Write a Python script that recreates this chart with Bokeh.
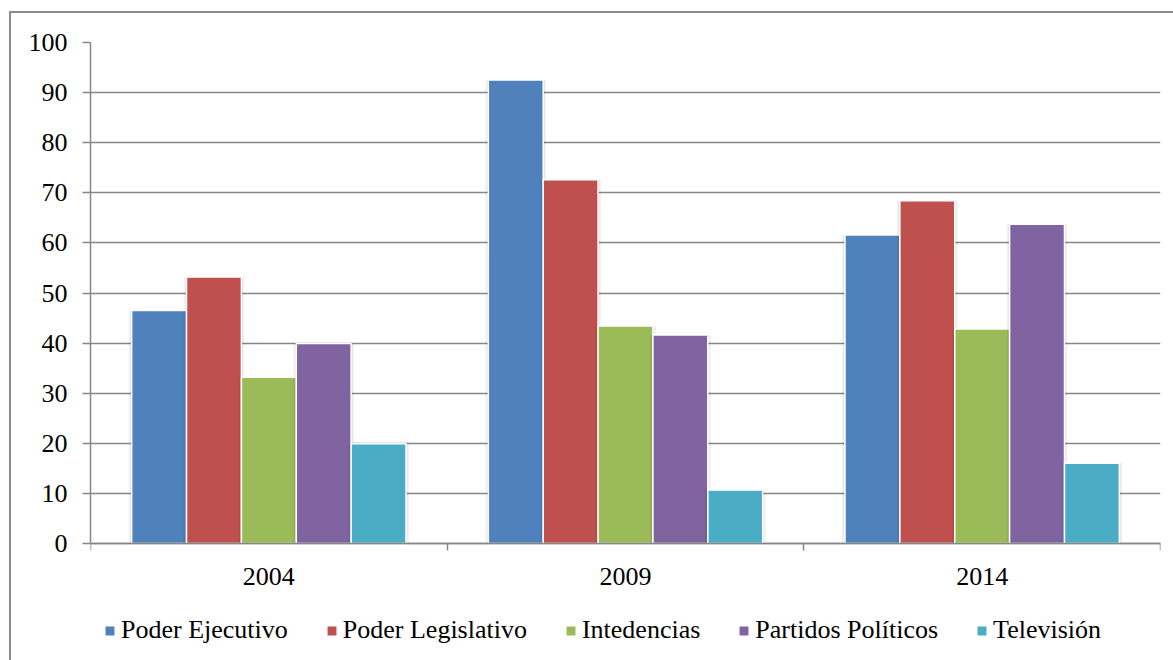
from bokeh.plotting import figure
from bokeh.models import (Range1d, FixedTicker, Legend, LegendItem, ColumnDataSource)
from bokeh.embed import file_html
from bokeh.resources import INLINE

# Survey years and institutions
categories = ["2004", "2009", "2014"]
series_names = ["Poder Ejecutivo", "Poder Legislativo", "Intedencias",
                "Partidos Políticos", "Televisión"]

poder_ejecutivo = [46.5, 92.5, 61.6]
poder_legislativo = [53.2, 72.6, 68.4]
intedencias = [33.2, 43.4, 42.8]
partidos_politicos = [39.9, 41.6, 63.7]
television = [19.9, 10.7, 16.0]

y_ticks = [0, 10, 20, 30, 40, 50, 60, 70, 80, 90, 100]

series_values = [poder_ejecutivo, poder_legislativo, intedencias,
                 partidos_politicos, television]
colors = ["#4F81BD", "#C0504D", "#9BBB59", "#8064A2", "#4BACC6"]

FONT = "Liberation Serif"
GRID = "#868686"

# value axis spans 501 px; the frame continues 117 px below zero to hold
# the category labels and the legend
PLOT_H = 501
BELOW = 117
p = figure(frame_width=1070, frame_height=PLOT_H + BELOW, output_backend="svg",
           toolbar_location=None,
           x_range=Range1d(0, len(categories)),
           y_range=Range1d(-BELOW * 100.0 / PLOT_H, 100),
           min_border_left=79, min_border_right=13, min_border_top=29,
           min_border_bottom=0)
p.margin = (11, 0, 0, 9)
p.styles = {"border-left": "2px solid #8c8c8c", "border-top": "2px solid #8c8c8c"}
p.outline_line_color = None
p.background_fill_color = "white"
p.border_fill_color = "white"

# gap width of 150% between clusters, bars touching inside a cluster
n = len(series_names)
bar_w = 1.0 / (n + 1.5)
px_x = len(categories) / 1070.0

renderers = []
for j, (name, vals, col) in enumerate(zip(series_names, series_values, colors)):
    xs = [i + 0.5 + (j - (n - 1) / 2) * bar_w for i in range(len(categories))]
    src = ColumnDataSource(dict(x=xs, top=vals))
    # soft shadow behind each bar
    p.vbar(x="x", top="top", bottom=0, source=src, width=bar_w + 6 * px_x,
           fill_color="black", fill_alpha=0.05, line_color=None)
    p.vbar(x="x", top="top", bottom=0, source=src, width=bar_w + 3 * px_x,
           fill_color="black", fill_alpha=0.06, line_color=None)
    r = p.vbar(x="x", top="top", bottom=0, source=src, width=bar_w,
               fill_color=col, line_color="white", line_width=1.5)
    renderers.append((name, r))

# y axis
p.yaxis.ticker = FixedTicker(ticks=y_ticks)
p.yaxis.bounds = (0, 100)
p.yaxis.axis_line_color = GRID
p.yaxis.axis_line_width = 1.5
p.yaxis.major_tick_line_color = GRID
p.yaxis.major_tick_line_width = 1.5
p.yaxis.major_tick_in = 0
p.yaxis.major_tick_out = 8
p.yaxis.minor_tick_line_color = None
p.yaxis.major_label_standoff = 15
p.yaxis.major_label_text_font = FONT
p.yaxis.major_label_text_font_size = "26px"
p.yaxis.major_label_text_color = "black"

# x axis sits at zero: labels at cluster centres, ticks at cluster boundaries
centers = [i + 0.5 for i in range(len(categories))]
bounds = [i for i in range(len(categories) + 1)]
p.xaxis.fixed_location = 0
p.xaxis.ticker = FixedTicker(ticks=centers, minor_ticks=bounds)
p.xaxis.major_label_overrides = {c: lab for c, lab in zip(centers, categories)}
p.xaxis.axis_line_color = GRID
p.xaxis.axis_line_width = 1.5
p.xaxis.major_tick_line_color = None
p.xaxis.major_tick_in = 0
p.xaxis.major_tick_out = 0
p.xaxis.minor_tick_line_color = GRID
p.xaxis.minor_tick_line_width = 1.5
p.xaxis.minor_tick_in = 0
p.xaxis.minor_tick_out = 7
p.xaxis.major_label_standoff = 17
p.xaxis.major_label_text_font = FONT
p.xaxis.major_label_text_font_size = "26px"
p.xaxis.major_label_text_color = "black"

p.xgrid.grid_line_color = None
p.ygrid.ticker = FixedTicker(ticks=y_ticks)
p.ygrid.grid_line_color = GRID
p.ygrid.grid_line_width = 1.5

legend = Legend(items=[LegendItem(label=nm, renderers=[r]) for nm, r in renderers],
                orientation="horizontal", location=(13, 15),
                padding=0, margin=0, border_line_color=None,
                background_fill_alpha=0, glyph_width=13, glyph_height=13,
                label_standoff=5, spacing=37, label_text_font=FONT,
                label_text_font_size="26px", label_text_color="black")
p.add_layout(legend, "center")

open("out.html", "w").write(file_html(p, INLINE))
